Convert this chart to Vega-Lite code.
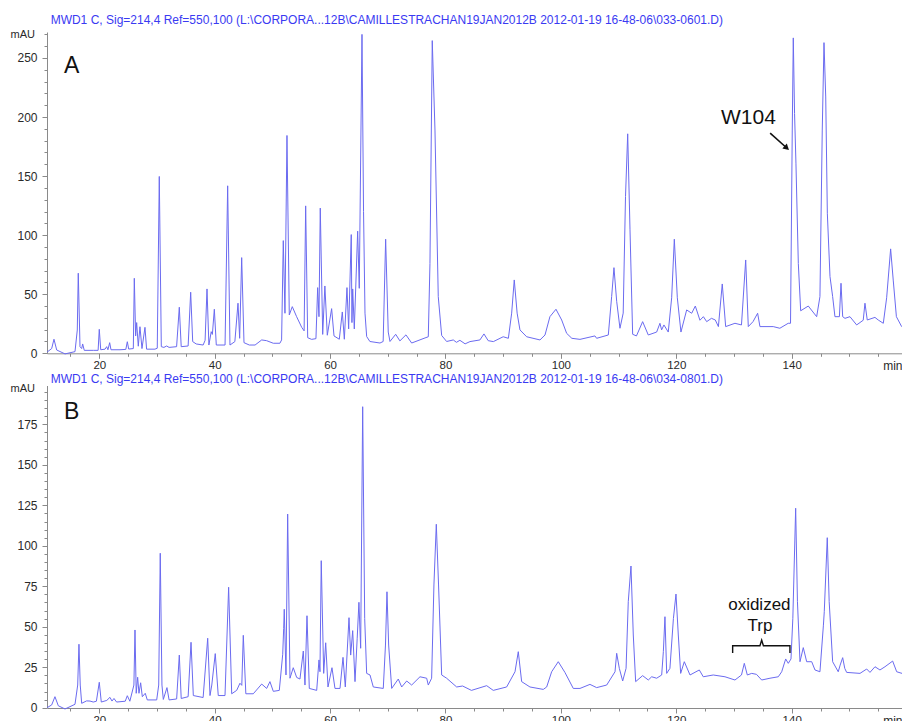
{
  "$schema": "https://vega.github.io/schema/vega-lite/v6.json",
  "width": 855,
  "height": 676,
  "autosize": {"type": "none"},
  "padding": {"left": 47, "top": 32, "right": 0, "bottom": 13},
  "background": "white",
  "config": {
    "view": {"stroke": null},
    "font": "Liberation Sans",
    "axis": {
      "grid": false,
      "domainColor": "#8a8a8a",
      "tickColor": "#8a8a8a",
      "labelColor": "#2a2a2a",
      "labelFont": "Liberation Sans",
      "labelFontSize": 12,
      "labelOverlap": false,
      "titleFont": "Liberation Sans",
      "titleFontWeight": "normal",
      "titleColor": "#2a2a2a",
      "titleFontSize": 11
    }
  },
  "datasets": {
    "A": [
      {"t":10.95,"v":1},{"t":11.75,"v":4},{"t":12.15,"v":11.9},{"t":12.62,"v":2.8},{"t":14.06,"v":-0.5},{"t":15.79,"v":1.4},{"t":16.19,"v":19.7},{"t":16.36,"v":67.8},{"t":16.66,"v":5.6},{"t":16.95,"v":4},{"t":17.12,"v":7.9},{"t":17.4,"v":2.5},{"t":18.96,"v":2.5},{"t":19.8,"v":2.5},{"t":20.0,"v":20.3},{"t":20.25,"v":3},{"t":21.0,"v":3.5},{"t":21.28,"v":5.6},{"t":21.5,"v":3},{"t":21.8,"v":9},{"t":22.03,"v":3},{"t":23.59,"v":3},{"t":24.6,"v":3.3},{"t":24.86,"v":9.8},{"t":25.1,"v":3.6},{"t":25.9,"v":4},{"t":26.07,"v":63.5},{"t":26.3,"v":14.7},{"t":26.48,"v":26},{"t":26.76,"v":6},{"t":27.05,"v":22.5},{"t":27.4,"v":4},{"t":27.92,"v":22},{"t":28.2,"v":3.5},{"t":29.65,"v":3.5},{"t":30.05,"v":4.3},{"t":30.4,"v":149.7},{"t":30.75,"v":5.6},{"t":31.2,"v":5},{"t":31.68,"v":6.2},{"t":32.1,"v":5},{"t":33.4,"v":5.6},{"t":33.87,"v":39},{"t":34.2,"v":5.6},{"t":35.4,"v":6.2},{"t":35.84,"v":51.7},{"t":36.19,"v":9.9},{"t":36.8,"v":7.9},{"t":38.0,"v":7},{"t":38.34,"v":11},{"t":38.67,"v":54.5},{"t":39.0,"v":7},{"t":39.4,"v":18.3},{"t":39.6,"v":16},{"t":39.94,"v":37.3},{"t":40.28,"v":7},{"t":41.8,"v":7},{"t":42.25,"v":141.8},{"t":42.65,"v":7},{"t":43.5,"v":9.9},{"t":44.04,"v":42.4},{"t":44.33,"v":12.7},{"t":44.68,"v":81},{"t":45.08,"v":9},{"t":46,"v":7},{"t":47,"v":7},{"t":48.15,"v":11.3},{"t":49,"v":10.7},{"t":50.16,"v":8.5},{"t":51.3,"v":8.5},{"t":51.6,"v":11.3},{"t":51.89,"v":95.4},{"t":52.18,"v":33.9},{"t":52.53,"v":184.4},{"t":52.93,"v":32.5},{"t":53.45,"v":39.5},{"t":54.2,"v":31},{"t":55.08,"v":22},{"t":55.5,"v":19},{"t":55.77,"v":124.8},{"t":56.12,"v":13.2},{"t":56.8,"v":11.8},{"t":57.55,"v":12.4},{"t":57.85,"v":55.6},{"t":58.08,"v":31},{"t":58.3,"v":122.9},{"t":58.72,"v":16},{"t":59.1,"v":57},{"t":59.52,"v":15.3},{"t":60.27,"v":37.8},{"t":60.68,"v":14.7},{"t":61.6,"v":11.9},{"t":62.12,"v":35},{"t":62.47,"v":11.9},{"t":62.93,"v":55.6},{"t":63.22,"v":20.6},{"t":63.67,"v":100.5},{"t":63.79,"v":26},{"t":63.92,"v":54.5},{"t":64.2,"v":20.6},{"t":64.78,"v":103.4},{"t":65.06,"v":55},{"t":65.53,"v":270},{"t":65.8,"v":120},{"t":66.05,"v":34},{"t":66.34,"v":14.2},{"t":66.9,"v":10},{"t":68.65,"v":8.7},{"t":69.2,"v":10},{"t":69.63,"v":96.6},{"t":70.08,"v":18},{"t":70.38,"v":10},{"t":71.37,"v":16.1},{"t":72.1,"v":10.5},{"t":73.15,"v":15.6},{"t":74.14,"v":8.7},{"t":76.45,"v":13},{"t":77.02,"v":14},{"t":77.31,"v":76},{"t":77.71,"v":264.7},{"t":78.18,"v":189},{"t":78.75,"v":48},{"t":79.34,"v":15.1},{"t":80.2,"v":10},{"t":81.35,"v":11.3},{"t":81.9,"v":9.3},{"t":82.5,"v":11},{"t":83.4,"v":8},{"t":84.24,"v":9.9},{"t":85.97,"v":11.3},{"t":86.67,"v":16.4},{"t":87.4,"v":10.7},{"t":88.3,"v":9.9},{"t":90.0,"v":14},{"t":90.9,"v":12.7},{"t":91.47,"v":34},{"t":91.92,"v":62.1},{"t":92.42,"v":34},{"t":92.91,"v":19.8},{"t":94.07,"v":14},{"t":96.38,"v":11.3},{"t":97.25,"v":15.5},{"t":98.1,"v":31},{"t":99.15,"v":37.3},{"t":100.14,"v":28.2},{"t":101.0,"v":16.9},{"t":101.9,"v":12.7},{"t":103.31,"v":11.8},{"t":105.9,"v":14.7},{"t":106.2,"v":12.7},{"t":108.22,"v":15.5},{"t":108.8,"v":48},{"t":109.2,"v":72.5},{"t":109.67,"v":44},{"t":110.24,"v":21.2},{"t":110.8,"v":34},{"t":111.2,"v":132.7},{"t":111.58,"v":185.8},{"t":111.98,"v":104.5},{"t":112.44,"v":16.1},{"t":113.1,"v":14.7},{"t":114.17,"v":26.8},{"t":115.15,"v":15.5},{"t":116.6,"v":18},{"t":117.17,"v":25.4},{"t":117.46,"v":19.8},{"t":117.86,"v":24},{"t":118.61,"v":18},{"t":119.2,"v":47},{"t":119.66,"v":96.6},{"t":120.18,"v":47},{"t":120.81,"v":18},{"t":121.8,"v":36.7},{"t":122.67,"v":33.9},{"t":123.3,"v":40},{"t":124.1,"v":28},{"t":124.7,"v":31},{"t":125.27,"v":26.8},{"t":126.1,"v":29.6},{"t":126.76,"v":28.2},{"t":127.3,"v":22.6},{"t":127.97,"v":58.7},{"t":128.56,"v":22.6},{"t":130.17,"v":25.4},{"t":131.3,"v":24},{"t":132.03,"v":79},{"t":132.48,"v":22.6},{"t":133.3,"v":26.8},{"t":134.1,"v":33.9},{"t":134.5,"v":22.6},{"t":136.8,"v":22.6},{"t":137.95,"v":21.2},{"t":139.4,"v":25.4},{"t":139.8,"v":25.4},{"t":140.1,"v":189},{"t":140.28,"v":267},{"t":140.5,"v":203},{"t":140.74,"v":161},{"t":141.15,"v":76},{"t":141.56,"v":36},{"t":142.88,"v":40},{"t":144.33,"v":31},{"t":144.9,"v":48},{"t":145.3,"v":189},{"t":145.6,"v":263},{"t":145.9,"v":217},{"t":146.18,"v":118.6},{"t":146.64,"v":65},{"t":147.1,"v":48},{"t":147.5,"v":31},{"t":148.27,"v":31},{"t":148.55,"v":59.3},{"t":148.84,"v":31},{"t":149.24,"v":29.6},{"t":150.1,"v":31},{"t":151.26,"v":24},{"t":152.4,"v":28},{"t":152.7,"v":42.4},{"t":153.1,"v":28.2},{"t":154.43,"v":30.4},{"t":155.0,"v":28.2},{"t":155.88,"v":25.4},{"t":156.46,"v":47},{"t":157.15,"v":88.4},{"t":157.6,"v":62},{"t":158.15,"v":31},{"t":159.07,"v":22.5}
    ],
    "B": [
      {"t":10.95,"v":0},{"t":11.75,"v":1.7},{"t":12.32,"v":6.8},{"t":12.9,"v":1.2},{"t":14.06,"v":-0.8},{"t":15.79,"v":2.1},{"t":16.26,"v":14},{"t":16.48,"v":39.2},{"t":16.7,"v":14},{"t":16.95,"v":2.7},{"t":17.8,"v":4.2},{"t":18.39,"v":4.1},{"t":18.96,"v":3.5},{"t":19.5,"v":4},{"t":20.0,"v":15.7},{"t":20.35,"v":3.5},{"t":21.3,"v":4.5},{"t":21.85,"v":6.4},{"t":22.2,"v":4.1},{"t":22.55,"v":5.7},{"t":23.0,"v":3.5},{"t":24.5,"v":4},{"t":24.86,"v":7.4},{"t":25.3,"v":4},{"t":26.0,"v":14},{"t":26.19,"v":48},{"t":26.4,"v":8.9},{"t":26.65,"v":18.8},{"t":26.88,"v":8.9},{"t":27.17,"v":15.4},{"t":27.46,"v":6.8},{"t":27.97,"v":8.9},{"t":28.32,"v":4.8},{"t":29.95,"v":4.8},{"t":30.3,"v":14},{"t":30.57,"v":95.4},{"t":30.86,"v":14},{"t":31.1,"v":5.1},{"t":31.73,"v":12.4},{"t":32.1,"v":4.8},{"t":33.41,"v":5.4},{"t":33.87,"v":32.5},{"t":34.2,"v":5.7},{"t":35.4,"v":6.8},{"t":35.9,"v":40.4},{"t":36.3,"v":7.5},{"t":38.0,"v":6.3},{"t":38.79,"v":42.9},{"t":39.19,"v":7.5},{"t":39.5,"v":14},{"t":40.1,"v":33.4},{"t":40.62,"v":7.5},{"t":41.79,"v":7.5},{"t":42.42,"v":74.4},{"t":42.95,"v":8.6},{"t":43.81,"v":10.7},{"t":44.38,"v":15.1},{"t":44.7,"v":13.8},{"t":44.96,"v":44.7},{"t":45.4,"v":8.6},{"t":46.69,"v":8.6},{"t":48.15,"v":14.6},{"t":49.01,"v":11.9},{"t":49.58,"v":16.1},{"t":50.16,"v":10.1},{"t":51.2,"v":10.7},{"t":51.79,"v":33},{"t":51.96,"v":49},{"t":52.06,"v":60.8},{"t":52.36,"v":20.2},{"t":52.65,"v":119.6},{"t":53.05,"v":18.2},{"t":53.62,"v":24.7},{"t":54.21,"v":18.7},{"t":54.78,"v":17.7},{"t":55.36,"v":35},{"t":55.65,"v":14},{"t":56.0,"v":56.8},{"t":56.4,"v":11.9},{"t":57.68,"v":10.7},{"t":58.08,"v":29.5},{"t":58.25,"v":22.2},{"t":58.47,"v":90.8},{"t":58.89,"v":21.2},{"t":59.24,"v":40.1},{"t":59.64,"v":12.8},{"t":60.33,"v":24.7},{"t":60.85,"v":11.9},{"t":61.72,"v":11.9},{"t":62.24,"v":31.1},{"t":62.64,"v":12.8},{"t":63.28,"v":55.6},{"t":63.57,"v":32.5},{"t":63.92,"v":47.6},{"t":64.32,"v":16.1},{"t":64.7,"v":42.9},{"t":65.0,"v":65.1},{"t":65.3,"v":36.7},{"t":65.65,"v":185.9},{"t":66.0,"v":55},{"t":66.34,"v":21.2},{"t":66.92,"v":20.2},{"t":67.49,"v":12.8},{"t":69.22,"v":11.9},{"t":69.6,"v":38.7},{"t":69.86,"v":71.6},{"t":70.15,"v":38.7},{"t":70.68,"v":11.9},{"t":71.82,"v":17.7},{"t":72.41,"v":12.8},{"t":73.28,"v":16.5},{"t":74.14,"v":14},{"t":75.58,"v":19.1},{"t":76.74,"v":18.2},{"t":77.02,"v":14},{"t":77.6,"v":18.2},{"t":78.0,"v":75.8},{"t":78.41,"v":113.3},{"t":78.8,"v":75.8},{"t":79.34,"v":20.2},{"t":80.2,"v":18.2},{"t":81.94,"v":12.8},{"t":82.97,"v":13.4},{"t":84.5,"v":10.7},{"t":87.14,"v":13.6},{"t":88.28,"v":10.7},{"t":90.6,"v":12.8},{"t":92.05,"v":22.2},{"t":92.62,"v":34.6},{"t":93.2,"v":16.1},{"t":94.64,"v":12.8},{"t":96.95,"v":11.3},{"t":97.54,"v":12.8},{"t":98.4,"v":22.2},{"t":99.55,"v":28.4},{"t":100.7,"v":21.8},{"t":102.15,"v":11.9},{"t":103.31,"v":11.9},{"t":105.04,"v":14.4},{"t":106.2,"v":12.4},{"t":107.94,"v":14},{"t":109.38,"v":22.2},{"t":109.67,"v":33.6},{"t":110.13,"v":24.3},{"t":110.71,"v":16.5},{"t":111.3,"v":24.3},{"t":111.68,"v":65.5},{"t":112.15,"v":87.5},{"t":112.55,"v":44.9},{"t":112.96,"v":16.1},{"t":114.17,"v":19.8},{"t":115.15,"v":17.1},{"t":115.74,"v":19.1},{"t":116.6,"v":18.2},{"t":117.47,"v":20.2},{"t":117.76,"v":34.6},{"t":118.04,"v":56.2},{"t":118.34,"v":21.2},{"t":118.9,"v":24.3},{"t":119.5,"v":55},{"t":119.95,"v":70.2},{"t":120.35,"v":44.9},{"t":120.76,"v":21.2},{"t":121.39,"v":28.4},{"t":122.38,"v":20.2},{"t":123.99,"v":23.3},{"t":124.68,"v":19.1},{"t":126.41,"v":20.2},{"t":128.44,"v":19.1},{"t":130.17,"v":17.1},{"t":131.3,"v":20.2},{"t":131.79,"v":27.4},{"t":132.31,"v":20.2},{"t":133.07,"v":21.2},{"t":133.9,"v":20.6},{"t":134.8,"v":17.1},{"t":136.24,"v":18.2},{"t":137.68,"v":19.1},{"t":138.27,"v":22.2},{"t":138.96,"v":30.1},{"t":139.41,"v":27.4},{"t":139.88,"v":30.1},{"t":140.2,"v":55.2},{"t":140.69,"v":123.2},{"t":141.0,"v":65.5},{"t":141.44,"v":28.4},{"t":142.01,"v":37.1},{"t":142.6,"v":28.4},{"t":143.47,"v":28.4},{"t":144.04,"v":23.3},{"t":144.9,"v":22.2},{"t":145.5,"v":51},{"t":145.65,"v":59.3},{"t":146.17,"v":105},{"t":146.5,"v":65.5},{"t":147.1,"v":28.4},{"t":148.07,"v":22.2},{"t":148.4,"v":26.3},{"t":148.84,"v":30.9},{"t":149.2,"v":24.3},{"t":149.53,"v":21.8},{"t":151.84,"v":21.2},{"t":153.0,"v":23.9},{"t":153.57,"v":21.8},{"t":154.44,"v":25.3},{"t":155.3,"v":23.3},{"t":156.17,"v":25.3},{"t":157.5,"v":28.8},{"t":158.2,"v":22.2},{"t":159.12,"v":21.2}
    ],
    "headerA": [{"t":11.57,"v":282,"label":"MWD1 C, Sig=214,4 Ref=550,100 (L:\\CORPORA...12B\\CAMILLESTRACHAN19JAN2012B 2012-01-19 16-48-06\\033-0601.D)"}],
    "headerB": [{"t":11.57,"v":203.2,"label":"MWD1 C, Sig=214,4 Ref=550,100 (L:\\CORPORA...12B\\CAMILLESTRACHAN19JAN2012B 2012-01-19 16-48-06\\034-0801.D)"}],
    "panelA": [{"t":15.22,"v":243.5,"label":"A"}],
    "panelB": [{"t":15.22,"v":182.8,"label":"B"}],
    "w104": [{"t":132.5,"v":199.2,"label":"W104"}],
    "arrow": [{"t":136.27,"v":186.4,"t2":139.2,"v2":173.6}],
    "arrowHead": [{"t":139.15,"v":173.8}],
    "oxText": [{"t":134.4,"v":63.4,"label":"oxidized"},{"t":134.5,"v":50.6,"label":"Trp"}],
    "bracket": [
      {"i":1,"t":129.77,"v":33.8},{"i":2,"t":129.77,"v":38.3},{"i":3,"t":134.5,"v":38.3},{"i":4,"t":134.8,"v":41.8},{"i":5,"t":135.1,"v":38.3},{"i":6,"t":139.7,"v":38.3},{"i":7,"t":139.7,"v":33.8}
    ]
  },
  "layer": [
    {
      "layer": [
        {
          "data": {"name": "A"},
          "mark": {"type": "line", "color": "#6b6bf0", "strokeWidth": 1},
          "encoding": {
            "x": {
              "field": "t", "type": "quantitative",
              "scale": {"domain": [10.94, 159.12], "nice": false, "zero": false},
              "axis": {
                "orient": "bottom", "offset": -354.7,
                "values": [20,40,60,80,100,120,140],
                "tickSize": 5,
                "labelOverlap": false,
                "labelPadding": 1,
                "labelFontSize": 11.5,
                "labelFlush": false,
                "title": "min", "titleX": 855, "titleY": 12, "titleAlign": "right", "titleBaseline": "middle", "titleFontSize": 12
              }
            },
            "y": {
              "field": "v", "type": "quantitative",
              "scale": {"domain": [0, 272], "range": [321.3, 0], "nice": false, "zero": false},
              "axis": {
                "orient": "left",
                "values": [0,50,100,150,200,250],
                "tickSize": 5,
                "labelOverlap": false,
                "labelPadding": 5,
                "title": "mAU", "titleAngle": 0, "titleX": -37, "titleY": 2, "titleAlign": "left", "titleBaseline": "middle"
              }
            }
          }
        },
        {
          "data": {"name": "headerA"},
          "mark": {"type": "text", "align": "left", "baseline": "middle", "fontSize": 12, "color": "#3a3af2", "font": "Liberation Sans"},
          "encoding": {"x": {"field": "t", "type": "quantitative"}, "y": {"field": "v", "type": "quantitative"}, "text": {"field": "label"}}
        },
        {
          "data": {"name": "panelA"},
          "mark": {"type": "text", "align": "center", "baseline": "middle", "fontSize": 23, "color": "#111"},
          "encoding": {"x": {"field": "t", "type": "quantitative"}, "y": {"field": "v", "type": "quantitative"}, "text": {"field": "label"}}
        },
        {
          "data": {"name": "w104"},
          "mark": {"type": "text", "align": "center", "baseline": "middle", "fontSize": 21, "color": "#111"},
          "encoding": {"x": {"field": "t", "type": "quantitative"}, "y": {"field": "v", "type": "quantitative"}, "text": {"field": "label"}}
        },
        {
          "data": {"name": "arrow"},
          "mark": {"type": "rule", "color": "#111", "strokeWidth": 1.6},
          "encoding": {"x": {"field": "t", "type": "quantitative"}, "y": {"field": "v", "type": "quantitative"}, "x2": {"field": "t2"}, "y2": {"field": "v2"}}
        },
        {
          "data": {"name": "arrowHead"},
          "mark": {"type": "point", "shape": "triangle-up", "filled": true, "color": "#111", "size": 45, "angle": 132, "opacity": 1},
          "encoding": {"x": {"field": "t", "type": "quantitative"}, "y": {"field": "v", "type": "quantitative"}}
        }
      ]
    },
    {
      "layer": [
        {
          "data": {"name": "B"},
          "mark": {"type": "line", "color": "#6b6bf0", "strokeWidth": 1},
          "encoding": {
            "x": {
              "field": "t", "type": "quantitative",
              "scale": {"domain": [10.94, 159.12], "nice": false, "zero": false},
              "axis": {
                "orient": "bottom", "offset": 0,
                "values": [20,40,60,80,100,120,140],
                "tickSize": 5,
                "labelOverlap": false,
                "labelPadding": 1,
                "labelFontSize": 11.5,
                "labelFlush": false,
                "title": "min", "titleX": 855, "titleY": 12, "titleAlign": "right", "titleBaseline": "middle", "titleFontSize": 12
              }
            },
            "y": {
              "field": "v", "type": "quantitative",
              "scale": {"domain": [0, 199], "range": [675.7, 353.5], "nice": false, "zero": false},
              "axis": {
                "orient": "left",
                "values": [0,25,50,75,100,125,150,175],
                "tickSize": 5,
                "labelOverlap": false,
                "labelPadding": 5,
                "title": "mAU", "titleAngle": 0, "titleX": -37, "titleY": 356, "titleAlign": "left", "titleBaseline": "middle"
              }
            }
          }
        },
        {
          "data": {"name": "headerB"},
          "mark": {"type": "text", "align": "left", "baseline": "middle", "fontSize": 12, "color": "#3a3af2", "font": "Liberation Sans"},
          "encoding": {"x": {"field": "t", "type": "quantitative"}, "y": {"field": "v", "type": "quantitative"}, "text": {"field": "label"}}
        },
        {
          "data": {"name": "panelB"},
          "mark": {"type": "text", "align": "center", "baseline": "middle", "fontSize": 23, "color": "#111"},
          "encoding": {"x": {"field": "t", "type": "quantitative"}, "y": {"field": "v", "type": "quantitative"}, "text": {"field": "label"}}
        },
        {
          "data": {"name": "oxText"},
          "mark": {"type": "text", "align": "center", "baseline": "middle", "fontSize": 17, "color": "#111"},
          "encoding": {"x": {"field": "t", "type": "quantitative"}, "y": {"field": "v", "type": "quantitative"}, "text": {"field": "label"}}
        },
        {
          "data": {"name": "bracket"},
          "mark": {"type": "line", "color": "#111", "strokeWidth": 1.4},
          "encoding": {"x": {"field": "t", "type": "quantitative"}, "y": {"field": "v", "type": "quantitative"}, "order": {"field": "i"}}
        }
      ]
    },
    {
      "data": {"name": "A"},
      "mark": {"type": "line", "opacity": 0},
      "encoding": {
        "x": {
          "field": "t", "type": "quantitative",
          "scale": {"domain": [10.94, 159.12], "nice": false, "zero": false},
          "axis": {"orient": "bottom", "offset": -354.7, "values": [15,25,30,35,45,50,55,65,70,75,85,90,95,105,110,115,125,130,135,145,150,155], "labels": false, "domain": false, "tickSize": 3, "title": null}
        },
        "y": {
          "field": "v", "type": "quantitative",
          "scale": {"domain": [0, 272], "range": [321.3, 0], "nice": false, "zero": false},
          "axis": {"orient": "left", "values": [10,20,30,40,60,70,80,90,110,120,130,140,160,170,180,190,210,220,230,240,260,270], "labels": false, "domain": false, "tickSize": 3, "title": null}
        }
      }
    },
    {
      "data": {"name": "B"},
      "mark": {"type": "line", "opacity": 0},
      "encoding": {
        "x": {
          "field": "t", "type": "quantitative",
          "scale": {"domain": [10.94, 159.12], "nice": false, "zero": false},
          "axis": {"orient": "bottom", "offset": 0, "values": [15,25,30,35,45,50,55,65,70,75,85,90,95,105,110,115,125,130,135,145,150,155], "labels": false, "domain": false, "tickSize": 3, "title": null}
        },
        "y": {
          "field": "v", "type": "quantitative",
          "scale": {"domain": [0, 199], "range": [675.7, 353.5], "nice": false, "zero": false},
          "axis": {"orient": "left", "values": [5,10,15,20,30,35,40,45,55,60,65,70,80,85,90,95,105,110,115,120,130,135,140,145,155,160,165,170,180,185,190,195], "labels": false, "domain": false, "tickSize": 3, "title": null}
        }
      }
    }
  ],
  "resolve": {
    "scale": {"x": "independent", "y": "independent"},
    "axis": {"x": "independent", "y": "independent"}
  }
}
